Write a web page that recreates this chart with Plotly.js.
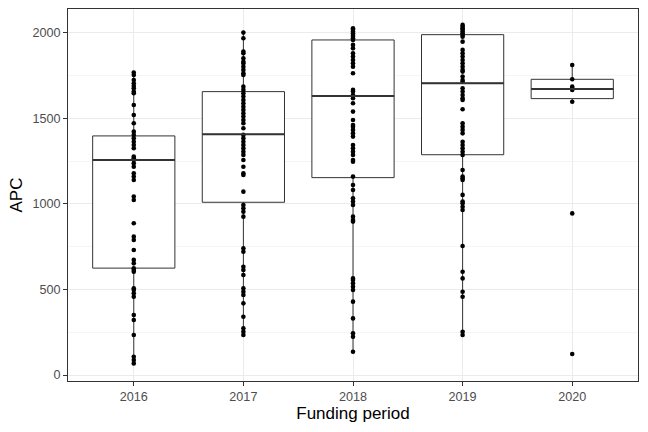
<!DOCTYPE html>
<html>
<head>
<meta charset="utf-8">
<script src="https://cdn.plot.ly/plotly-3.0.1.min.js"></script>
<style>html,body{margin:0;padding:0;background:#fff;}#chart{width:648px;height:432px;}</style>
</head>
<body>
<div id="chart"></div>
<script>
// Categories (funding periods)
const periods = ['2016', '2017', '2018', '2019', '2020'];

// Box statistics
const q1Values     = [625, 1010, 1154, 1288, 1616];
const medianValues = [1257, 1407, 1632, 1706, 1672];
const q3Values     = [1398, 1657, 1959, 1990, 1729];
const lowerValues  = [68, 234, 136, 234, 1598];
const upperValues  = [1768, 2002, 2027, 2047, 1813];

// Individual APC values per period
const apc2016 = [1768, 1754, 1725, 1706, 1690, 1677, 1657, 1647, 1579, 1520, 1472, 1423, 1404, 1384, 1364, 1345, 1326, 1277, 1267, 1257, 1238, 1218, 1180, 1160, 1140, 1043, 1023, 887, 809, 789, 731, 673, 653, 624, 614, 604, 507, 497, 478, 458, 351, 322, 234, 107, 88, 68];
const apc2017 = [2002, 1969, 1891, 1881, 1852, 1832, 1823, 1803, 1784, 1764, 1754, 1686, 1667, 1647, 1628, 1608, 1589, 1569, 1550, 1530, 1511, 1491, 1472, 1443, 1404, 1384, 1364, 1345, 1326, 1306, 1287, 1257, 1218, 1180, 1170, 1072, 994, 975, 955, 926, 741, 721, 633, 614, 585, 507, 487, 468, 419, 341, 273, 253, 234];
const apc2018 = [2027, 2018, 2008, 1998, 1988, 1978, 1969, 1959, 1930, 1910, 1881, 1862, 1842, 1823, 1803, 1764, 1667, 1657, 1637, 1618, 1589, 1540, 1491, 1462, 1452, 1433, 1413, 1394, 1345, 1326, 1306, 1287, 1257, 1247, 1160, 1111, 1082, 1033, 1014, 994, 926, 906, 897, 565, 556, 536, 516, 497, 429, 331, 244, 224, 136];
const apc2019 = [2047, 2037, 2027, 2018, 2008, 1998, 1988, 1978, 1949, 1901, 1881, 1862, 1842, 1823, 1803, 1784, 1774, 1745, 1725, 1715, 1677, 1657, 1637, 1618, 1608, 1554, 1472, 1452, 1433, 1413, 1364, 1345, 1326, 1306, 1287, 1199, 1160, 1150, 1140, 1053, 1014, 1004, 984, 965, 754, 604, 565, 487, 458, 253, 234];
const apc2020 = [1813, 1729, 1686, 1677, 1667, 1598, 945, 123];

const yTicks = [0, 500, 1000, 1500, 2000];

const groups = [apc2016, apc2017, apc2018, apc2019, apc2020];
const px = [], py = [];
groups.forEach((g, i) => g.forEach(v => { px.push(periods[i]); py.push(v); }));

const FONT = '"Liberation Sans", Arial, Helvetica, sans-serif';
const BOXW = 0.75;

const boxTrace = {
  type: 'box',
  x: periods,
  q1: q1Values,
  median: medianValues,
  q3: q3Values,
  lowerfence: lowerValues,
  upperfence: upperValues,
  width: BOXW,
  whiskerwidth: 0,
  fillcolor: '#ffffff',
  line: {color: '#333333', width: 1},
  boxpoints: false,
  showlegend: false,
  hoverinfo: 'skip'
};

const pointTrace = {
  type: 'scatter',
  mode: 'markers',
  x: px,
  y: py,
  marker: {color: '#000000', size: 4.6},
  showlegend: false,
  hoverinfo: 'skip'
};

// Thicker median bars (ggplot fatten)
const shapes = medianValues.map((m, i) => ({
  type: 'line', xref: 'x', yref: 'y',
  x0: i - BOXW / 2, x1: i + BOXW / 2, y0: m, y1: m,
  line: {color: '#333333', width: 2},
  layer: 'above'
}));

const layout = {
  width: 648, height: 432,
  margin: {l: 68, r: 10, t: 9, b: 51},
  paper_bgcolor: '#ffffff',
  plot_bgcolor: '#ffffff',
  font: {family: FONT, color: '#4d4d4d', size: 12.6},
  showlegend: false,
  shapes: shapes,
  xaxis: {
    type: 'category',
    categoryorder: 'array',
    categoryarray: periods,
    range: [-0.6, 4.6],
    showgrid: true, gridcolor: '#ebebeb', gridwidth: 1,
    zeroline: false,
    showline: true, mirror: true, linecolor: '#333333', linewidth: 1,
    ticks: 'outside', ticklen: 4, tickwidth: 1, tickcolor: '#333333',
    tickfont: {family: FONT, size: 12.6, color: '#4d4d4d'},
    title: {text: 'Funding period', font: {family: FONT, size: 17, color: '#000000'}, standoff: 3},
    automargin: false
  },
  yaxis: {
    range: [-35, 2140],
    tickvals: yTicks,
    ticktext: yTicks.map(String),
    showgrid: true, gridcolor: '#ebebeb', gridwidth: 1,
    minor: {dtick: 250, tick0: 250, showgrid: true, gridcolor: '#ebebeb', gridwidth: 0.5, ticks: ''},
    zeroline: false,
    showline: true, mirror: true, linecolor: '#333333', linewidth: 1,
    ticks: 'outside', ticklen: 4, tickwidth: 1, tickcolor: '#333333',
    tickfont: {family: FONT, size: 12.6, color: '#4d4d4d'},
    title: {text: 'APC', font: {family: FONT, size: 17, color: '#000000'}, standoff: 5},
    automargin: false
  }
};

Plotly.newPlot('chart', [boxTrace, pointTrace], layout, {displayModeBar: false, staticPlot: true});
</script>
</body>
</html>
